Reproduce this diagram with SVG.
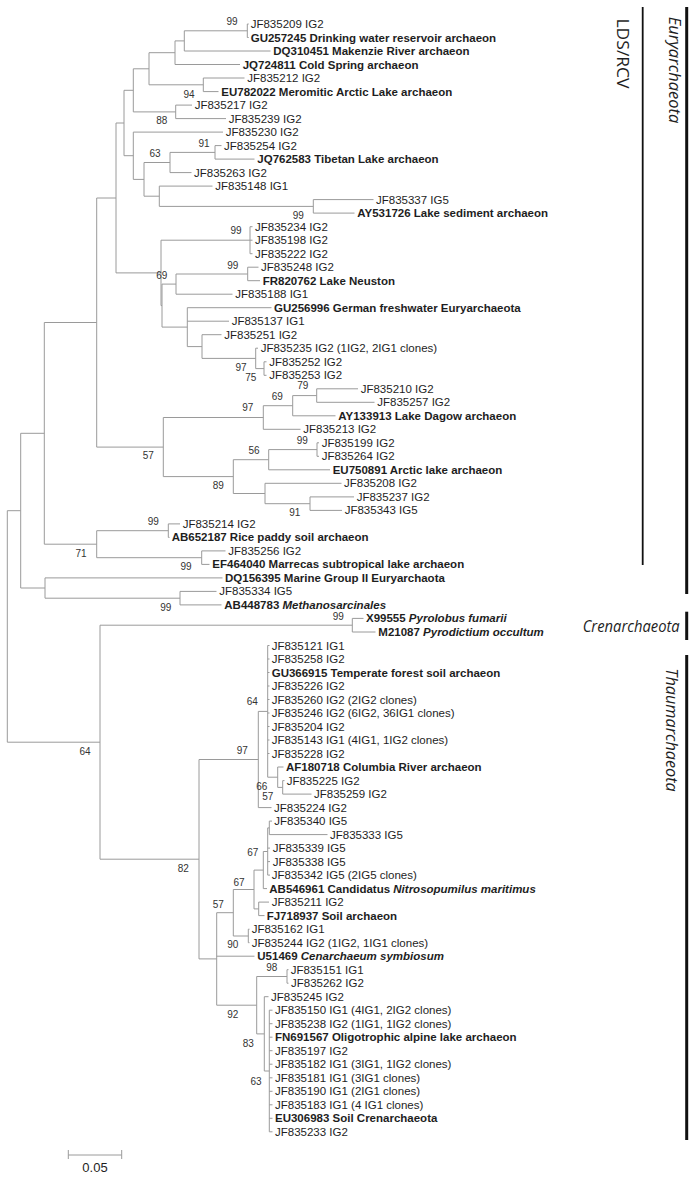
<svg xmlns="http://www.w3.org/2000/svg" width="696" height="1180" viewBox="0 0 696 1180">
<style>
.br{stroke:#9a9a9a;stroke-width:1;fill:none}
.t{font-family:"Liberation Sans",Arial,sans-serif;font-size:11.5px;fill:#1e1e1e}
.b{font-weight:bold}
.i{font-style:italic}
.bs{font-family:"Liberation Sans",Arial,sans-serif;font-size:10px;fill:#333;text-anchor:middle}
.cl{font-family:"Open Sans","Liberation Sans",sans-serif;font-size:17px;fill:#1e1e1e}
.bar{stroke:#111;fill:none}
</style>
<rect width="696" height="1180" fill="#fff"/>
<g id="connectors">
<path class="br" d="M7.3 510.7V742.2M7.3 510.7H20.7M7.3 742.2H100
M20.7 433.3V588M20.7 433.3H44.3M20.7 588H45
M44.3 322.5V544.2M44.3 322.5H96.7M44.3 544.2H96.7
M96.7 198V447.1M96.7 198H116M96.7 447.1H163.3
M116 123V272.9M116 123H124M116 272.9H161
M124 90.3V155.7M124 90.3H133.3M124 155.7H133.3
M133.3 68.8V111.9M133.3 68.8H149M133.3 111.9H175.7
M149 52.7V84.8M149 52.7H175M149 84.8H203.3
M175 40.9V64.5M175 40.9H184.3M175 64.5H240
M184.3 30.8V51M184.3 30.8H247.3M184.3 51H270.5
M247.3 24V37.5M247.3 24H248.7M247.3 37.5H248.7
M203.3 78V91.6M203.3 78H244.5M203.3 91.6H218.5
M175.7 105.1V118.6M175.7 105.1H192M175.7 118.6H226
M133.3 132.1V179.4M133.3 132.1H223M133.3 179.4H144
M144 162.5V196.2M144 162.5H170M144 196.2H159.3
M170 152.4V172.6M170 152.4H215M170 172.6H191.5
M215 145.6V159.1M215 145.6H221.5M215 159.1H254.5
M159.3 186.1V206.4M159.3 186.1H212.5M159.3 206.4H313.3
M313.3 199.6V213.1M313.3 199.6H373.5M313.3 213.1H354.5
M161 240.2V305.6M161 240.2H250M161 305.6H162
M250 226.7V253.7M250 226.7H252.5M250 240.2H252.5M250 253.7H252.5
M162 284.1V327.1M162 284.1H176M162 327.1H187.3
M176 274V294.2M176 274H247.7M176 294.2H232.5
M247.7 267.2V280.7M247.7 267.2H258.5M247.7 280.7H260
M187.3 307.7V346.6M187.3 307.7H271.5M187.3 321.2H229M187.3 346.6H202
M202 334.7V358.4M202 334.7H221.5M202 358.4H255.7
M255.7 348.2V368.6M255.7 348.2H258M255.7 368.6H264
M264 361.8V375.3M264 361.8H266.5M264 375.3H266.5
M163.3 417.5V476.6M163.3 417.5H263.3M163.3 476.6H233.3
M263.3 405.7V429.3M263.3 405.7H292.7M263.3 429.3H300.5
M292.7 395.6V415.8M292.7 395.6H316.7M292.7 415.8H335.5
M316.7 388.8V402.3M316.7 388.8H358M316.7 402.3H374.5
M233.3 459.7V493.5M233.3 459.7H268.7M233.3 493.5H265
M268.7 449.6V469.8M268.7 449.6H317M268.7 469.8H330
M317 442.8V456.3M317 442.8H319M317 456.3H319
M265 483.3V503.7M265 483.3H341.5M265 503.7H310
M310 496.9V510.4M310 496.9H354M310 510.4H342
M96.7 530.7V557.7M96.7 530.7H168.3M96.7 557.7H201.7
M168.3 523.9V537.4M168.3 523.9H180M168.3 537.4H169.5
M201.7 550.9V564.4M201.7 550.9H225.5M201.7 564.4H209.5
M45 577.9V598.2M45 577.9H222.5M45 598.2H180
M180 591.4V604.9M180 591.4H216.5M180 604.9H221.5
M100 625.2V859.2M100 625.2H352.3M100 859.2H199
M352.3 618.4V632M352.3 618.4H363.5M352.3 632H375.5
M199 759.5V958.9M199 759.5H258.3M199 958.9H216.7
M258.3 711.4V807.6M258.3 711.4H267.7M258.3 807.6H271.5
M267.7 645.5V777.2M267.7 645.5H269.5M267.7 659H269.5M267.7 672.5H269.5M267.7 686H269.5M267.7 699.5H269.5M267.7 713H269.5M267.7 726.5H269.5M267.7 740H269.5M267.7 753.5H269.5M267.7 777.2H277.7
M277.7 767V787.4M277.7 767H283.5M277.7 787.4H282.7
M282.7 780.6V794.1M282.7 780.6H284.5M282.7 794.1H311.5
M216.7 912.7V1005.2M216.7 912.7H233.3M216.7 956.2H254.5M216.7 1005.2H256.7
M233.3 889.5V936M233.3 889.5H254M233.3 936H248.3
M254 870.1V908.9M254 870.1H263.3M254 908.9H258.7
M263.3 851.5V888.6M263.3 851.5H267.7M263.3 888.6H267
M267.7 827.9V875.1M267.7 827.9H269.3M267.7 848.1H270M267.7 861.6H270M267.7 875.1H270
M269.3 821.1V834.6M269.3 821.1H272M269.3 834.6H327.5
M258.7 902.1V915.6M258.7 902.1H269M258.7 915.6H264.5
M248.3 929.2V942.7M248.3 929.2H249.5M248.3 942.7H249.5
M256.7 976.5V1033.9M256.7 976.5H287M256.7 1033.9H264.3
M287 969.7V983.2M287 969.7H288.5M287 983.2H288.5
M264.3 996.7V1071M264.3 996.7H268.5M264.3 1071H269.3
M269.3 1010.2V1131.8M269.3 1010.2H272.5M269.3 1023.7H272.5M269.3 1037.2H272.5M269.3 1050.7H272.5M269.3 1064.2H272.5M269.3 1077.8H272.5M269.3 1091.3H272.5M269.3 1104.8H272.5M269.3 1118.3H272.5M269.3 1131.8H272.5"/>
</g>
<g id="leaves" class="t">
<g id="JF835209"><text x="250.7" y="28">JF835209 IG2</text></g>
<g id="GU257245"><text class="b" x="250.7" y="41.5">GU257245 Drinking water reservoir archaeon</text></g>
<g id="DQ310451"><text class="b" x="273.3" y="55">DQ310451 Makenzie River archaeon</text></g>
<g id="JQ724811"><text class="b" x="242.7" y="68.5">JQ724811 Cold Spring archaeon</text></g>
<g id="JF835212"><text x="247.3" y="82">JF835212 IG2</text></g>
<g id="EU782022"><text class="b" x="221.3" y="95.6">EU782022 Meromitic Arctic Lake archaeon</text></g>
<g id="JF835217"><text x="194.7" y="109.1">JF835217 IG2</text></g>
<g id="JF835239"><text x="228.7" y="122.6">JF835239 IG2</text></g>
<g id="JF835230"><text x="225.7" y="136.1">JF835230 IG2</text></g>
<g id="JF835254"><text x="224" y="149.6">JF835254 IG2</text></g>
<g id="JQ762583"><text class="b" x="257.3" y="163.1">JQ762583 Tibetan Lake archaeon</text></g>
<g id="JF835263"><text x="194" y="176.6">JF835263 IG2</text></g>
<g id="JF835148"><text x="215.3" y="190.1">JF835148 IG1</text></g>
<g id="JF835337"><text x="376" y="203.6">JF835337 IG5</text></g>
<g id="AY531726"><text class="b" x="357.3" y="217.1">AY531726 Lake sediment archaeon</text></g>
<g id="JF835234"><text x="255" y="230.7">JF835234 IG2</text></g>
<g id="JF835198"><text x="255" y="244.2">JF835198 IG2</text></g>
<g id="JF835222"><text x="255" y="257.7">JF835222 IG2</text></g>
<g id="JF835248"><text x="261" y="271.2">JF835248 IG2</text></g>
<g id="FR820762"><text class="b" x="262.7" y="284.7">FR820762 Lake Neuston</text></g>
<g id="JF835188"><text x="235.3" y="298.2">JF835188 IG1</text></g>
<g id="GU256996"><text class="b" x="274" y="311.7">GU256996 German freshwater Euryarchaeota</text></g>
<g id="JF835137"><text x="231.7" y="325.2">JF835137 IG1</text></g>
<g id="JF835251"><text x="224.3" y="338.7">JF835251 IG2</text></g>
<g id="JF835235"><text x="260.7" y="352.2">JF835235 IG2 (1IG2, 2IG1 clones)</text></g>
<g id="JF835252"><text x="269.3" y="365.8">JF835252 IG2</text></g>
<g id="JF835253"><text x="269.3" y="379.3">JF835253 IG2</text></g>
<g id="JF835210"><text x="360.7" y="392.8">JF835210 IG2</text></g>
<g id="JF835257"><text x="377.3" y="406.3">JF835257 IG2</text></g>
<g id="AY133913"><text class="b" x="338.3" y="419.8">AY133913 Lake Dagow archaeon</text></g>
<g id="JF835213"><text x="303.3" y="433.3">JF835213 IG2</text></g>
<g id="JF835199"><text x="321.7" y="446.8">JF835199 IG2</text></g>
<g id="JF835264"><text x="321.7" y="460.3">JF835264 IG2</text></g>
<g id="EU750891"><text class="b" x="332.7" y="473.8">EU750891 Arctic lake archaeon</text></g>
<g id="JF835208"><text x="344" y="487.3">JF835208 IG2</text></g>
<g id="JF835237"><text x="356.7" y="500.9">JF835237 IG2</text></g>
<g id="JF835343"><text x="344.7" y="514.4">JF835343 IG5</text></g>
<g id="JF835214"><text x="182.7" y="527.9">JF835214 IG2</text></g>
<g id="AB652187"><text class="b" x="171.7" y="541.4">AB652187 Rice paddy soil archaeon</text></g>
<g id="JF835256"><text x="228.3" y="554.9">JF835256 IG2</text></g>
<g id="EF464040"><text class="b" x="212.3" y="568.4">EF464040 Marrecas subtropical lake archaeon</text></g>
<g id="DQ156395"><text class="b" x="225" y="581.9">DQ156395 Marine Group II Euryarchaota</text></g>
<g id="JF835334"><text x="219.3" y="595.4">JF835334 IG5</text></g>
<g id="AB448783"><text class="b" x="224.3" y="608.9">AB448783 <tspan class="i">Methanosarcinales</tspan></text></g>
<g id="X99555"><text class="b" x="366" y="622.4">X99555 <tspan class="i">Pyrolobus fumarii</tspan></text></g>
<g id="M21087"><text class="b" x="378.3" y="636">M21087 <tspan class="i">Pyrodictium occultum</tspan></text></g>
<g id="JF835121"><text x="271.7" y="649.5">JF835121 IG1</text></g>
<g id="JF835258"><text x="271.7" y="663">JF835258 IG2</text></g>
<g id="GU366915"><text class="b" x="271.7" y="676.5">GU366915 Temperate forest soil archaeon</text></g>
<g id="JF835226"><text x="271.7" y="690">JF835226 IG2</text></g>
<g id="JF835260"><text x="271.7" y="703.5">JF835260 IG2 (2IG2 clones)</text></g>
<g id="JF835246"><text x="271.7" y="717">JF835246 IG2 (6IG2, 36IG1 clones)</text></g>
<g id="JF835204"><text x="271.7" y="730.5">JF835204 IG2</text></g>
<g id="JF835143"><text x="271.7" y="744">JF835143 IG1 (4IG1, 1IG2 clones)</text></g>
<g id="JF835228"><text x="271.7" y="757.5">JF835228 IG2</text></g>
<g id="AF180718"><text class="b" x="286" y="771">AF180718 Columbia River archaeon</text></g>
<g id="JF835225"><text x="286.7" y="784.6">JF835225 IG2</text></g>
<g id="JF835259"><text x="314" y="798.1">JF835259 IG2</text></g>
<g id="JF835224"><text x="274" y="811.6">JF835224 IG2</text></g>
<g id="JF835340"><text x="274.3" y="825.1">JF835340 IG5</text></g>
<g id="JF835333"><text x="330" y="838.6">JF835333 IG5</text></g>
<g id="JF835339"><text x="272.7" y="852.1">JF835339 IG5</text></g>
<g id="JF835338"><text x="272.7" y="865.6">JF835338 IG5</text></g>
<g id="JF835342"><text x="271.7" y="879.1">JF835342 IG5 (2IG5 clones)</text></g>
<g id="AB546961"><text class="b" x="269.3" y="892.6">AB546961 Candidatus <tspan class="i">Nitrosopumilus maritimus</tspan></text></g>
<g id="JF835211"><text x="271.7" y="906.1">JF835211 IG2</text></g>
<g id="FJ718937"><text class="b" x="266.7" y="919.6">FJ718937 Soil archaeon</text></g>
<g id="JF835162"><text x="251.7" y="933.2">JF835162 IG1</text></g>
<g id="JF835244"><text x="251.7" y="946.7">JF835244 IG2 (1IG2, 1IG1 clones)</text></g>
<g id="U51469"><text class="b" x="257.3" y="960.2">U51469 <tspan class="i">Cenarchaeum symbiosum</tspan></text></g>
<g id="JF835151"><text x="290.7" y="973.7">JF835151 IG1</text></g>
<g id="JF835262"><text x="291" y="987.2">JF835262 IG2</text></g>
<g id="JF835245"><text x="271" y="1000.7">JF835245 IG2</text></g>
<g id="JF835150"><text x="275" y="1014.2">JF835150 IG1 (4IG1, 2IG2 clones)</text></g>
<g id="JF835238"><text x="275" y="1027.7">JF835238 IG2 (1IG1, 1IG2 clones)</text></g>
<g id="FN691567"><text class="b" x="275" y="1041.2">FN691567 Oligotrophic alpine lake archaeon</text></g>
<g id="JF835197"><text x="275" y="1054.7">JF835197 IG2</text></g>
<g id="JF835182"><text x="275" y="1068.2">JF835182 IG1 (3IG1, 1IG2 clones)</text></g>
<g id="JF835181"><text x="275" y="1081.8">JF835181 IG1 (3IG1 clones)</text></g>
<g id="JF835190"><text x="275" y="1095.3">JF835190 IG1 (2IG1 clones)</text></g>
<g id="JF835183"><text x="275" y="1108.8">JF835183 IG1 (4 IG1 clones)</text></g>
<g id="EU306983"><text class="b" x="275" y="1122.3">EU306983 Soil Crenarchaeota</text></g>
<g id="JF835233"><text x="275" y="1135.8">JF835233 IG2</text></g>
</g>
<g id="bootstrap" class="bs">
<text x="232" y="25.3">99</text>
<text x="189" y="97.6">94</text>
<text x="161.7" y="124.3">88</text>
<text x="204" y="146.9">91</text>
<text x="155" y="156.9">63</text>
<text x="298.3" y="219.3">99</text>
<text x="236" y="234.3">99</text>
<text x="232.7" y="268.6">99</text>
<text x="161.7" y="278.6">69</text>
<text x="241" y="371.3">97</text>
<text x="250.7" y="381.3">75</text>
<text x="302.7" y="389.3">79</text>
<text x="277.3" y="400.3">69</text>
<text x="247.7" y="410.9">97</text>
<text x="302.3" y="444.3">99</text>
<text x="254" y="454.3">56</text>
<text x="148.3" y="459.3">57</text>
<text x="218.3" y="489.3">89</text>
<text x="294.7" y="516.3">91</text>
<text x="153.3" y="525.3">99</text>
<text x="81" y="556.9">71</text>
<text x="186" y="570.3">99</text>
<text x="165.7" y="611.3">99</text>
<text x="338.3" y="619.6">99</text>
<text x="252.3" y="705.3">64</text>
<text x="242.3" y="753.6">97</text>
<text x="85" y="755.3">64</text>
<text x="261.7" y="789.6">66</text>
<text x="267.7" y="799.6">57</text>
<text x="252.7" y="856.3">67</text>
<text x="183.3" y="871.9">82</text>
<text x="239" y="886.3">67</text>
<text x="218.3" y="907.6">57</text>
<text x="232.7" y="947.9">90</text>
<text x="271.7" y="971.3">98</text>
<text x="232.7" y="1017.9">92</text>
<text x="248.3" y="1046.9">83</text>
<text x="256" y="1084.6">63</text>
</g>
<g id="clade-LDS">
<line class="bar" x1="642.7" y1="7" x2="642.7" y2="565" stroke-width="1.8"/>
<text class="cl" transform="translate(617,18.5) rotate(90)" textLength="70" lengthAdjust="spacingAndGlyphs">LDS/RCV</text>
</g>
<g id="clade-Eury">
<line class="bar" x1="686.7" y1="7" x2="686.7" y2="594" stroke-width="3"/>
<text class="cl i" transform="translate(668.5,16.7) rotate(90)" textLength="106.5" lengthAdjust="spacingAndGlyphs">Euryarchaeota</text>
</g>
<g id="clade-Cren">
<line class="bar" x1="686.7" y1="611.7" x2="686.7" y2="640" stroke-width="3"/>
<text class="cl i" x="582.7" y="631.5" textLength="97" lengthAdjust="spacingAndGlyphs">Crenarchaeota</text>
</g>
<g id="clade-Thaum">
<line class="bar" x1="686.7" y1="655" x2="686.7" y2="1140" stroke-width="3"/>
<text class="cl i" transform="translate(666,668.3) rotate(90)" textLength="123.5" lengthAdjust="spacingAndGlyphs">Thaumarchaeota</text>
</g>
<g id="scale">
<path class="br" d="M68.3 1155H121.7M68.3 1150V1159M121.7 1150V1159"/>
<text x="95" y="1172.3" text-anchor="middle" style="font-family:'Liberation Sans',Arial,sans-serif;font-size:13px;fill:#1e1e1e">0.05</text>
</g>
</svg>
